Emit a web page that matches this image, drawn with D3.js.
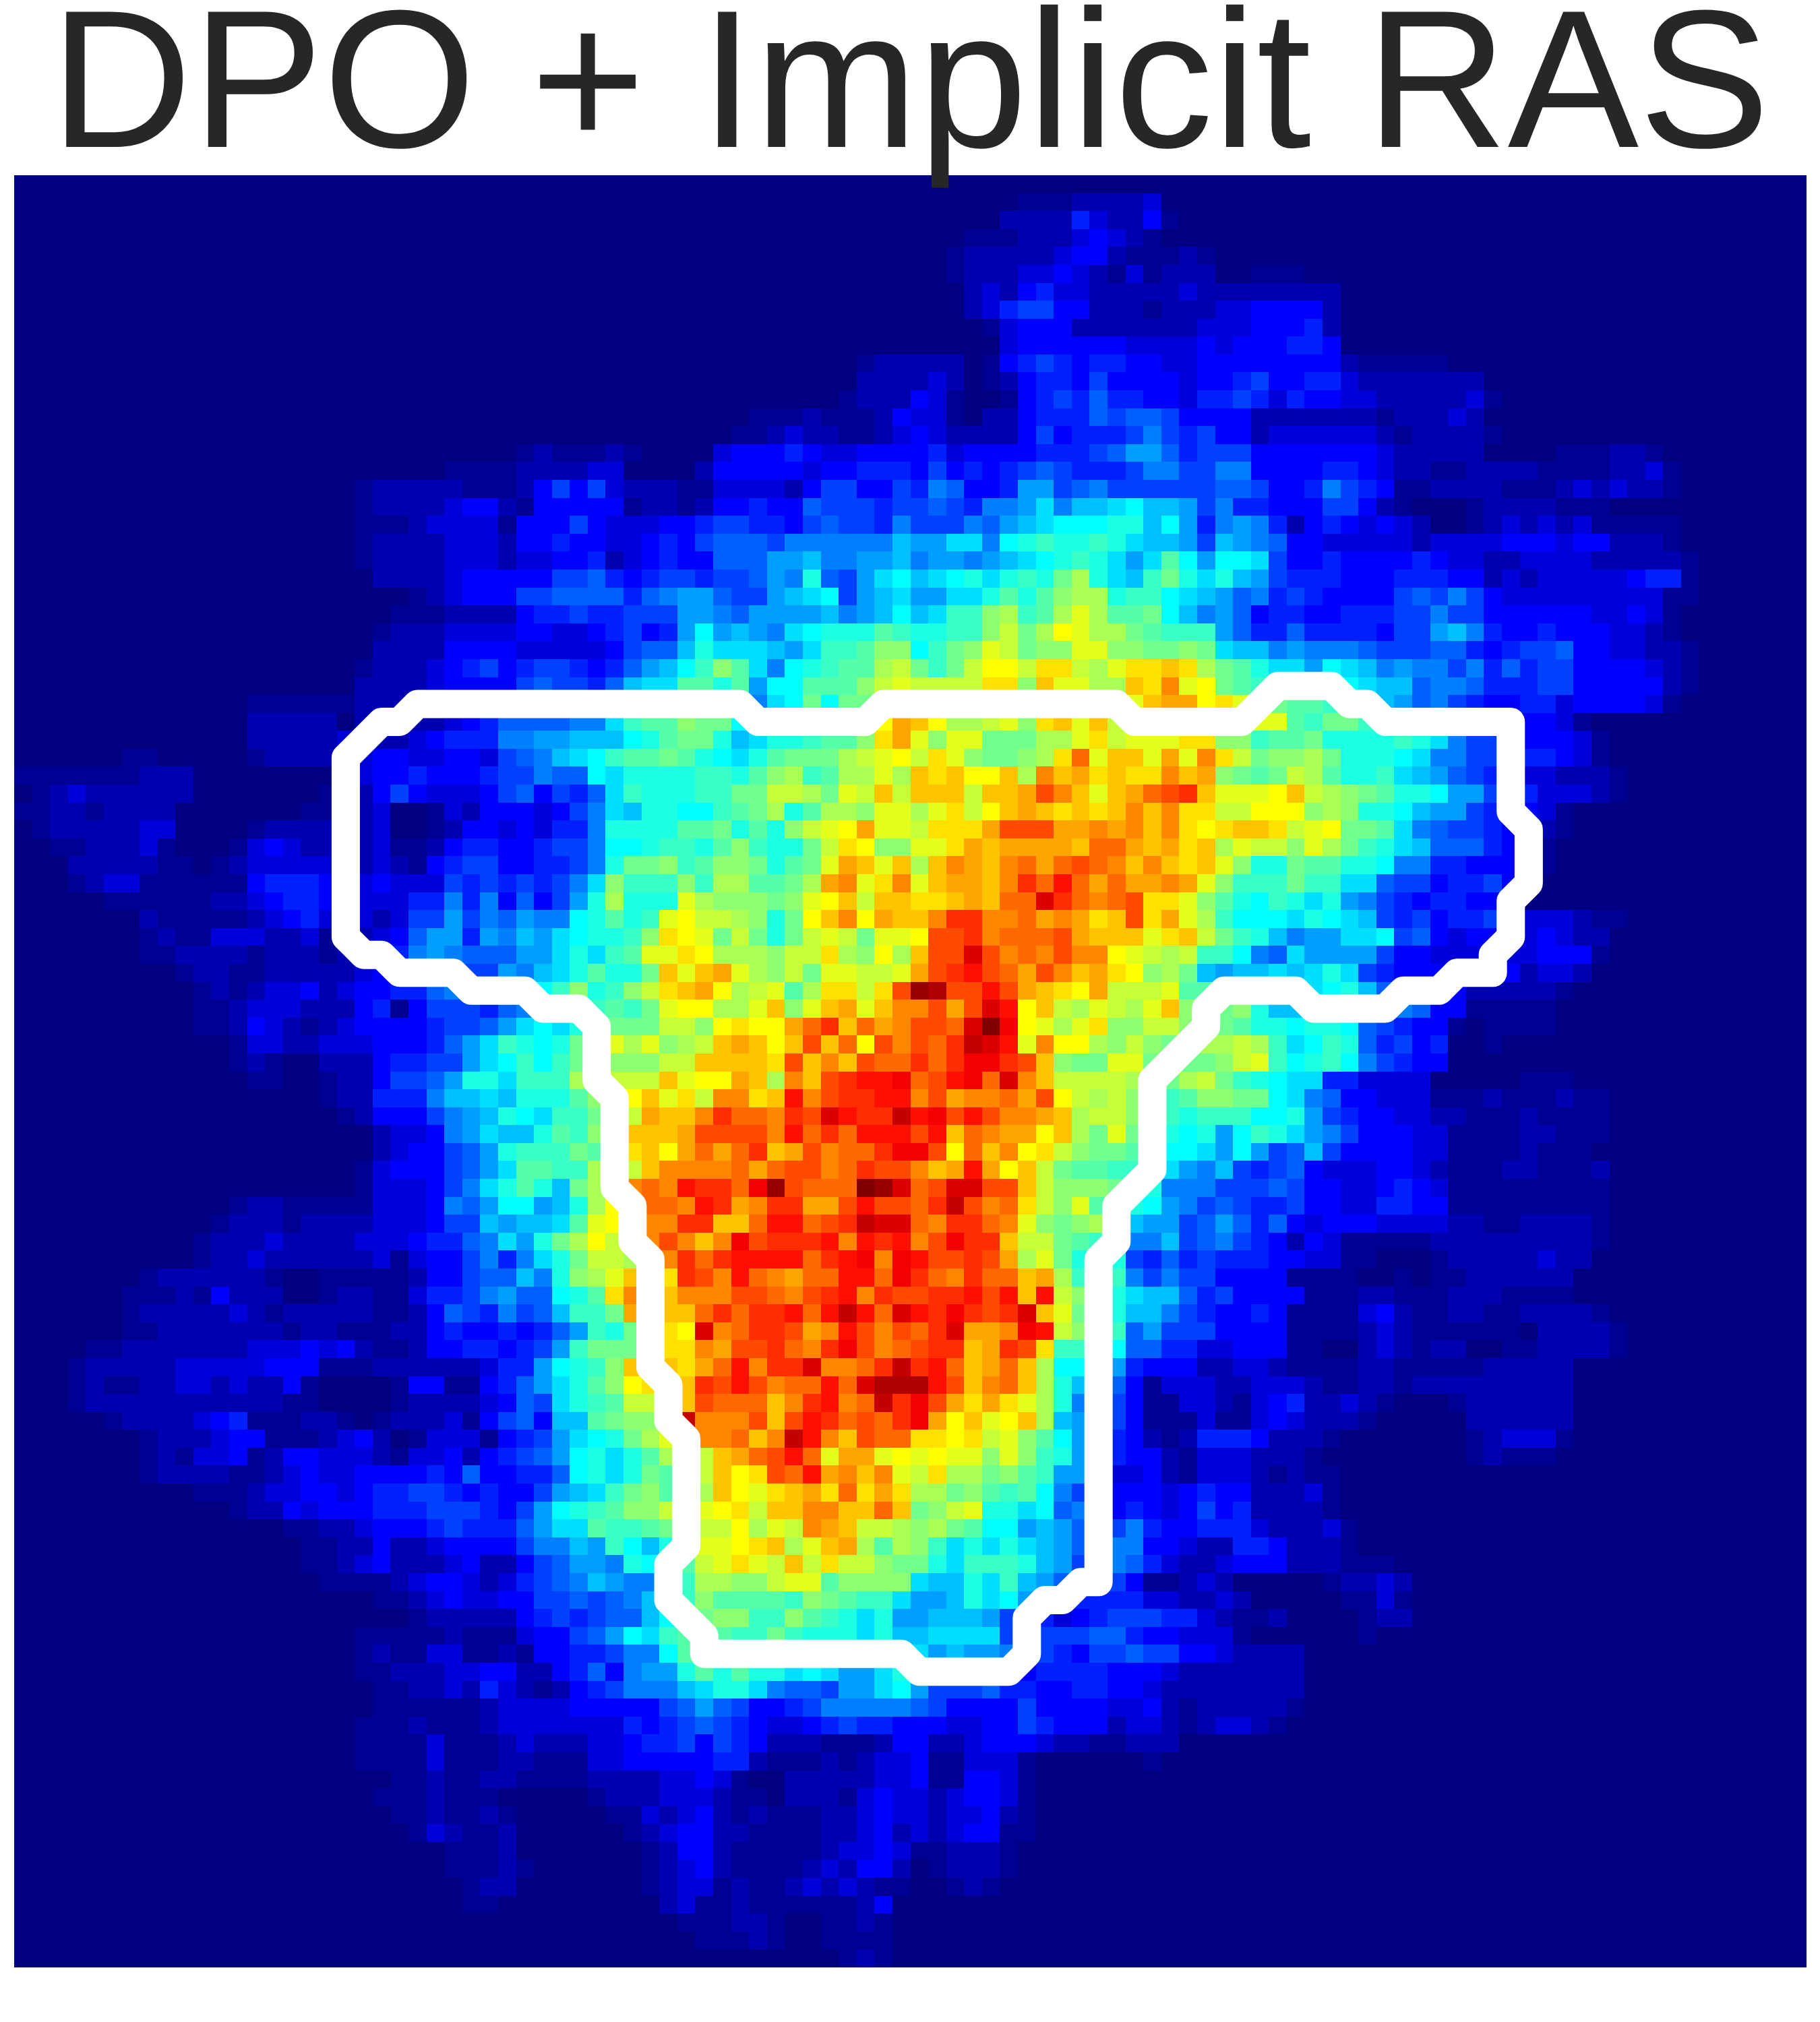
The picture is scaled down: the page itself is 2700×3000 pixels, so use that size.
<!DOCTYPE html>
<html><head><meta charset="utf-8">
<script src="https://cdn.jsdelivr.net/npm/d3@7"></script>
<style>html,body{margin:0;padding:0;background:#fff}svg{display:block}</style></head>
<body><svg id="c" width="2700" height="3000"></svg>
<script>
const titleText = "DPO + Implicit RAS";
// Heat levels, base-36 digit per cell (0 = lowest, z = highest).
// leftColumns: each string ends at column 49. rightColumns: each string starts at column 50.
const leftColumns = ["","","","","","","","","","",
"122","222","1222","111211124","1123221123","1211121000034445433444","11112222330000244444344555","1222221112464632221133332466446","1222234421444441221244544766656","1112333314446433344566554676658",
"122223332445443345467776888888a","1222233323344523454477799a8899a","222234444466754566566798d769bc","123444667777578997669abc69ab","111222245565566699879999a89ac","122233334433456459c9a98bcdddfe","22224444333334677adbbba9beefhh","12223456456654579acehfb8cdeffij","222234444676657abbffdf9ccfffhjk","111111222"+"4455566778899abbccd"+"8bcgcggkk",
"22222022222"+"345777788beffhggccddeefhlo","222223222345558899aaacdfggdabddeffhmo","110000012222234433443678abceffgfdcbdfgggijkl","1111111222"+"00000000"+"23"+"4454445"+"66877cbddddeedfhiefiiki","0123"+"222222"+"0000000"+"122"+"4643334674657bedddeeggjjigkjnj","11221"+"2222"+"0000000"+"1122"+"3001324443468baddccefgidfiihkk","012222233"+"0000"+"1"+"222222"+"3001244343558ddddffgdfdhjklokk","1122231"+"000"+"13432222"+"3112455445668ccdeedfheddgjmlhh","22222"+"110"+"12"+"33333"+"22"+"3214566445568dgghefhhgdfgkonkn","1233"+"111111"+"4"+"555"+"4"+"33"+"433365656568bheeeheiiffgiopkmp",
"111111"+"22"+"34554"+"33"+"335585847469didddkihhhghklnjnn","211111"+"2345"+"333"+"23669687988cdfdekljjihdglnplon","1211333223122"+"34799598a9bcddehmlkgjgdgjkjgkk","1122221222122"+"3589877799bdbefkkmliiihjjmihli","12211"+"22222"+"3"+"455556698abdfddgnknokihjgkkjjk","1212334234"+"4557889abcehdehjmnolijkfimmjmr","1123332224"+"514666578acdefegklliiknhknoknp","1124321234"+"44456679bcbdegggjjhlmlloqsnqop","13322333"+"444579bedcdgikikhijnonlnrnqlrp","12100222"+"455669bcecegihhhjjnnnnmrnpnrqq",
"1100122"+"46679ddbeeeijjjjnkllonipnrsttu","122"+"5558aabadddfhilnkmjppmntprsstt","12"+"444689adcbeeghjonnpsqqpsrvtssw","233489baadfehjnnnorrrrptqsqttt","2344679deeegfimnloqoqsnorpqqsu","1"+"3444679bffeeiijnppppqoqrrpqsrr","1"+"333468bdfdagikpqptssquyrqqqzyv","12211111"+"3334879cc9adilkqqptsopssoortrr","122212222"+"333466a9aabfklmppssnnqttqrswvv","1222322223"+"3345578b9dgiljmprpnpurssstptst",
"1223222222"+"313446858bdgjjinpsqsttttqstupu","1222222100111"+"11244677a8dhiknnmsrptqpoqqttqu","11121422200122"+"1135568977cdfmpnnppprrqprstpsr","12222232122222"+"1124765867aeegopnnqsqsstqtwtqv","11"+"2222222"+"1"+"22"+"11"+"122454454579edgkmlvpqssroptrpr","11"+"2222222"+"333"+"4342"+"11244554569egggnmmporrsqpsurpq","1"+"22222"+"33333"+"444"+"111"+"2222223559cdehnnnmoqtpssvppqsw","12112233232241000"+"0144114579bdfhlmnnsrtrpqqtqvxx","1"+"22222222222"+"11"+"000"+"0122223476bdefjjnnrqqqnpstpqws","122223451112210"+"1222314674aafghhjwppprnrtsqrqs",
"1222344111234"+"20133314569bcdgikmppqnpwtpnrqq","1213341244333"+"21334245679cdbdfijjnoqrtqkookl","1222211234334"+"44454744557cdbdgfijnlmrqtopnpk","1112334434"+"55665454469abeghfhinlkmnomqmom","12243444"+"5556665469cdefhhjjklmjnnppnnqn","11223"+"4445655579bbfeefghjjlikjponjji","1122"+"42234444688a9ecadikklmniknoifi","1123"+"42223422467998dc9fjkmkjnjmjjhg","111"+"123443235678a988beiihhjkkfhhhh","112343344667678acehffffehgfeeb",
"1222224565677aceghheehfedbd9","111112111344679cbefffeegedddbda","12113311214455688cf"+"eeeeeeddbbaa","1122233442245748"+"99dfdfddbcb99bd","11223253212456888abddb877699bc","111111"+"2"+"3333"+"44444"+"679764456"+"88888","11121112"+"3333333"+"5456765433456554","1111311123222334556465422211124","1111"+"3111"+"22111"+"33"+"44444"+"55"+"2111"+"21233","11211221111"+"2222"+"3343"+"100"+"22222"+"33",
"1112111"+"00000"+"1222"+"3332"+"110"+"2221"+"343","1121121"+"00000"+"11"+"3234"+"2"+"12111"+"22343","132112"+"000000"+"123442"+"21111"+"22342","1112"+"0000000"+"12442"+"11111"+"23343","11121"+"000000"+"12342"+"11112"+"32442","122"+"0000000"+"12331"+"21123"+"23211","11"+"000000000"+"23112"+"111111"+"240","1112210011210","111210011110","1210"];
const rightColumns = ["","00000011122223","000002222532241","00011122234321","00"+"1"+"22222"+"344211121","00"+"12223343213122200111","000"+"232453322222322222222","000"+"235664422212223344442","0000"+"13444"+"2222222"+"333"+"444"+"52","00000"+"3"+"444444"+"3333"+"43"+"444"+"55"+"4",
"222"+"01"+"45654"+"55"+"44"+"33"+"44"+"444444"+"2"+"11111","232012"+"4554"+"64444"+"3"+"44"+"56"+"44"+"55"+"3"+"2"+"222222","431001"+"45657"+"55443"+"5565"+"35"+"44"+"33"+"22222"+"31","331022"+"4555"+"76776"+"4444"+"2222222"+"1"+"222"+"32","432222"+"46455"+"56865"+"644"+"2"+"333333"+"21"+"2222"+"1","453444"+"4555"+"67997"+"5666"+"4444444"+"3"+"22222"+"0000"+"111221","464545"+"6765556"+"886688"+"4444"+"55"+"432211"+"2222"+"1111"+"2231","587445"+"99678"+"6"+"66666"+"77"+"6"+"445"+"865"+"4"+"11"+"2222"+"111"+"2323"+"221","676588"+"9b8aabcaa9"+"6855"+"444"+"66"+"4"+"21"+"000"+"1"+"2222"+"111","666879abcccdd"+"ac95"+"898"+"5245"+"43432"+"00"+"12"+"32323"+"11111",
"99bb8cdeddedbaa96a98744"+"33333"+"2"+"3333"+"444"+"3"+"44"+"222"+"1","89989abcdedb9bfc9ccb6445"+"4444"+"54"+"33"+"22"+"3333"+"22222"+"1","abcdbdedgidbaegdbda96"+"555"+"444"+"555"+"44"+"2323"+"3333"+"455"+"1","99bbdfdfhiideecba9785654444"+"676864"+"333333333"+"11","abeehiefikiffgca89"+"74"+"55"+"44"+"555"+"66"+"8"+"66"+"44"+"4444"+"33"+"43"+"1","ddeehjgilkiigfeee97"+"55"+"7"+"5555"+"4"+"66"+"9a8"+"5"+"44"+"5"+"444"+"33"+"21","ceghkjghhkkhhgghgbaa"+"89888"+"7666"+"77"+"545"+"667"+"44"+"33"+"22"+"1","gegjlljmmjikmmnmigfd"+"bb9cba8988"+"68"+"57"+"566"+"4444"+"321","jjjjmmhnkkiinmpklgfe"+"dddd"+"cb"+"aa"+"7887"+"555"+"66"+"4"+"4444"+"21","jjjjkkkkllll"+"knoolmk"+"hgffeed"+"a9786"+"544"+"55"+"3"+"4444"+"31",
"nliijkhmnknj"+"kkkkkkkkk"+"fegge"+"bbbaa876"+"4431","khkkgggiikmjkkkmmhhe"+"ffg"+"dddd"+"ed"+"b866"+"5"+"444"+"31","jmkhgghimqknnkokpmjg"+"hhig"+"ddd"+"cb"+"88"+"66"+"555"+"431","nmnllnipnomnmmpnohgf"+"gjif"+"dde"+"ba97"+"654"+"33"+"222"+"1","nnnjnnorpnknoqrsnkkk"+"lnjihgf"+"ddc"+"99"+"655"+"333"+"21","ikmjlnonmnmnpnpmmjjl"+"llhih"+"ddc"+"a99"+"65"+"44"+"31","jmmmorrroopopnpmlmnn"+"mjkl"+"ggf"+"b87"+"665"+"44"+"21","kkmonoooonqqonomnikj"+"jhkigedba"+"777"+"544"+"1","inponpqoqrqpnpnmnkhd"+"dgffddc"+"88"+"55"+"4444"+"1","knoonpsqtqoqoopokhee"+"egeebb"+"766"+"4556"+"44",
"mmnonqqvsqpqrmmkhfdc"+"edbd"+"98654"+"55"+"44"+"3","npssppqopomnrmokiecc"+"cbdcba"+"6564"+"5565"+"333"+"2"+"11","lrrspqqqronnnkmnjged"+"a899bbc"+"674"+"3444"+"343"+"22","nrrvrpqprpplkjijeec8"+"7b9999"+"644"+"333333"+"444"+"1","orstrqorpnomlhiga9aa"+"babdb"+"654"+"444444"+"2332","yxrrtronmlojjjkfffed"+"cbbcda"+"7554"+"4"+"22222"+"1","prorvt"+"lnjikjiknh"+"gghda"+"aabbb987"+"44"+"11111","rrqvzulkikmhhjjhhgfd"+"dcddc"+"76544"+"1"+"0"+"1111","rqswvtkpllihjhghiiji"+"ebced"+"75645"+"0"+"0"+"1","sqsuusrnhggkkgggghjk"+"ecdec"+"86544",
"qrtuqvpnjjjjiggijged"+"cbb"+"55"+"3333"+"00000"+"111","proppqorljijhfefhhgg"+"cb87"+"44"+"333"+"111"+"2"+"111"+"211","turtrpponijjhfedeeec"+"cd96544"+"33"+"22"+"111"+"2"+"1111","rtnqpoolnigkgedcd9ce"+"db986"+"444"+"33"+"1111"+"22"+"111","urlqnplmjhggfdccb9c9"+"67a6"+"4444"+"33"+"1111"+"2"+"111","pnotolnjgffeedb98a65"+"674"+"333"+"44"+"32"+"111"+"22"+"1112","qrvvrrnjhhhgfd888666"+"76"+"44"+"33"+"4543"+"111111111","qswrpqmjhkfedc986765"+"56"+"44"+"33"+"55"+"44"+"111111111","qpssqpkhghiba9967975"+"74"+"3"+"444"+"3333"+"22"+"11"+"2222"+"1","prussnjjgfec88a67865"+"4243"+"11111"+"222222222"+"1",
"trrsroikgddd65756555"+"44"+"33"+"11"+"000"+"1"+"22222"+"322","sqpsqqnoieee86866444"+"4"+"1111"+"00"+"1"+"0"+"11"+"222222","rsstrtntjhedbaa75644"+"44"+"111"+"22"+"111"+"222"+"1111","tsusrsvnkgedaa865445"+"4"+"1111"+"342"+"11"+"22"+"11"+"2222"+"1","qsvooputjhee79666444"+"4"+"1111"+"232"+"111111"+"0"+"2222"+"1","rssnosrmeedc77553344"+"4"+"11"+"00"+"232"+"1"+"22"+"00"+"11"+"2222"+"1","stqnoqniccb954442233"+"2"+"1111"+"22"+"11111"+"22222","xtrnpqnida9741333223"+"332"+"11"+"22"+"1"+"222222222","uromomkid87641133213"+"4522321"+"000"+"1"+"222222","uolnklnia97641113113"+"432221"+"00000"+"222222",
"mmlmjkhfc97542125554"+"222"+"1"+"0000000"+"1"+"2"+"333"+"1","klkkhkhed97544213332"+"22"+"1"+"00000000"+"1"+"2"+"111","jmiighfe995334213332"+"1211","iighfefc865444345442"+"2231","ghjkddbc785454346452"+"2221","higfcc9a976685445553"+"22231","hebdbdba977884432255"+"42221","gdbeeeda967875322344"+"4222"+"111","baadbea9766641123200"+"000"+"1"+"2232","99adbc97655553322320"+"0000"+"1131",
"9aaa9665345666553211"+"2"+"0000"+"122","abbbb66666775443331"+"000000"+"1","b9a99876546676644322"+"22","99999"+"545555"+"444"+"3"+"2"+"222222","96667554455443"+"22222222","76444464444334"+"21"+"22222"+"1","443344654442332"+"1"+"23321","422344432211222","4113331"+"000000"+"1","4114431",
"3234431","3233421","3234411","112221","012221","001210","","","",""];
const levelStops = [0,1,2,3,4,12,21,29.5,35];
const levelColors = ["#000080","#000092","#0000b0","#0000d8","#0000ff","#00ffff","#ffff00","#ff0000","#800000"];
// Outline of the target region, in grid columns and rows.
const outlineCols = [18.5,20.5,21.5,22.5,40.5,41.5,47.5,48.5,61.5,62.5,68.5,70.5,73.5,74.5,75.5,76.5,83.5,83.5,84.5,84.5,83.5,83.5,82.5,82.5,80.5,79.5,77.5,76.5,72.5,71.5,67.5,66.5,66.5,63.5,63.5,61.5,61.5,60.5,60.5,59.5,58.5,57.5,56.5,56.5,55.5,50.5,49.5,38.5,38.5,36.5,36.5,37.5,37.5,36.5,36.5,35.5,35.5,34.5,34.5,33.5,33.5,32.5,32.5,31.5,29.5,28.5,25.5,24.5,21.5,20.5,19.5,18.5];
const outlineRows = [32.5,30.5,30.5,29.5,29.5,30.5,30.5,29.5,29.5,30.5,30.5,28.5,28.5,29.5,29.5,30.5,30.5,35.5,36.5,39.5,40.5,42.5,43.5,44.5,44.5,45.5,45.5,46.5,46.5,45.5,45.5,46.5,47.5,50.5,55.5,57.5,59.5,60.5,78.5,78.5,79.5,79.5,80.5,82.5,83.5,83.5,82.5,82.5,81.5,79.5,77.5,76.5,70.5,69.5,67.5,66.5,60.5,59.5,57.5,56.5,51.5,50.5,47.5,46.5,46.5,45.5,45.5,44.5,44.5,43.5,43.5,42.5];

const svg = d3.select("#c");
const gridSize = 100;
const x = d3.scaleLinear().domain([0,gridSize]).range([21,2680]);
const y = d3.scaleLinear().domain([0,gridSize]).range([260,2919]);
const color = d3.scaleLinear().domain(levelStops).range(levelColors);
const cells = [];
for (let r=0;r<gridSize;r++){
  const row = leftColumns[r].padStart(50,"0")+rightColumns[r].padEnd(50,"0");
  for (let c=0;c<gridSize;c++) cells.push({r,c,v:parseInt(row[c],36)});
}
svg.append("g").attr("shape-rendering","crispEdges").selectAll("rect").data(cells).join("rect")
  .attr("x",d=>Math.round(x(d.c))).attr("y",d=>Math.round(y(d.r)))
  .attr("width",d=>Math.round(x(d.c+1))-Math.round(x(d.c)))
  .attr("height",d=>Math.round(y(d.r+1))-Math.round(y(d.r)))
  .attr("fill",d=>color(d.v));
const line = d3.line().x(d=>x(d[0])).y(d=>y(d[1])).curve(d3.curveLinearClosed);
svg.append("path").attr("d",line(d3.zip(outlineCols,outlineRows)))
  .attr("fill","none").attr("stroke","#fff").attr("stroke-width",42).attr("stroke-linejoin","round");
svg.append("text").attr("x",1350).attr("y",218).attr("text-anchor","middle")
  .attr("font-family","'Liberation Sans',Arial,sans-serif").attr("font-size",291.5).attr("fill","#272727")
  .text(titleText);
</script></body></html>
